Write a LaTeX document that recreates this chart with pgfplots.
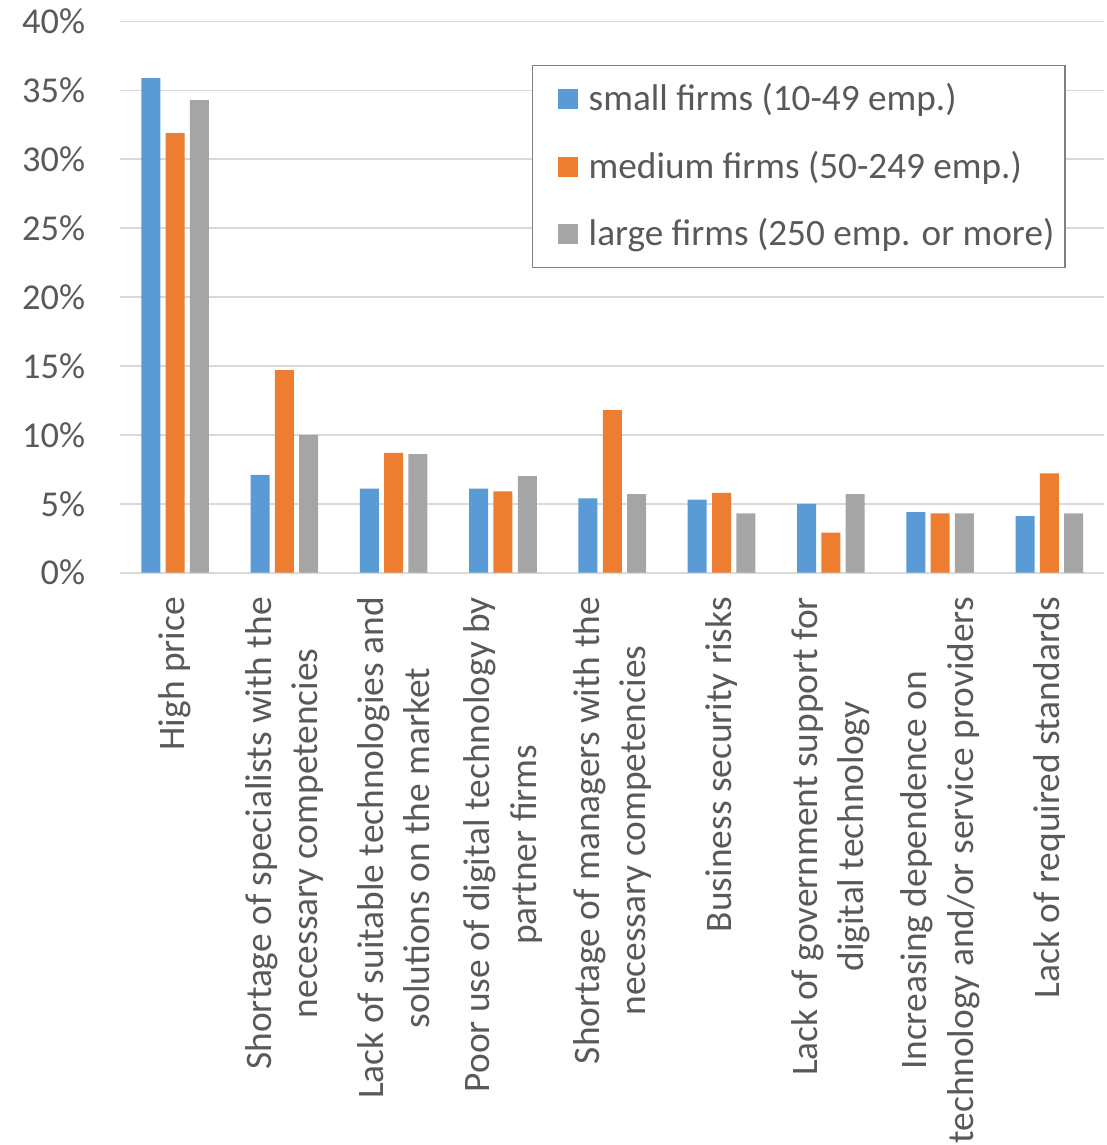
\documentclass[border=0pt]{standalone}
\usepackage{fontspec}
\setmainfont{Carlito}
\usepackage{pgfplots}
\pgfplotsset{compat=1.18}
\definecolor{cblue}{HTML}{5B9BD5}
\definecolor{corange}{HTML}{ED7D31}
\definecolor{cgray}{HTML}{A5A5A5}
\definecolor{gridc}{HTML}{D9D9D9}
\definecolor{txt}{HTML}{595959}
\definecolor{legb}{HTML}{808080}
\begin{document}
\begin{tikzpicture}
\begin{axis}[
  at={(0,0)}, anchor=south west,
  scale only axis, width=491.75pt, height=275.6pt,
  xmin=-0.5, xmax=8.5, ymin=0, ymax=40,
  ybar, bar width=9.5pt,
  axis line style={draw=none},
  major tick length=0pt,
  ymajorgrids, grid style={draw=gridc, line width=0.85pt},
  ytick={0,5,...,40},
  yticklabels={0\%,5\%,10\%,15\%,20\%,25\%,30\%,35\%,40\%},
  yticklabel style={font=\fontsize{18.2}{22}\selectfont, text=txt, inner sep=0pt, anchor=east, xshift=-17.5pt},
  xtick={0,...,8},
  xticklabels={{High price},
    {Shortage of specialists with the\\necessary competencies},
    {Lack of suitable technologies and\\solutions on the market},
    {Poor use of digital technology by\\partner firms},
    {Shortage of managers with the\\necessary competencies},
    {Business security risks},
    {Lack of government support for\\digital technology},
    {Increasing dependence on\\technology and/or service providers},
    {Lack of required standards}},
  xticklabel style={yshift=-12pt, rotate=90, anchor=east, align=center, inner sep=0pt, font=\fontsize{18.7}{23.2}\selectfont, text=txt},
  legend style={at={(0.4184,0.9211)}, anchor=north west, draw=legb, line width=0.75pt, fill=white,
    inner xsep=5.5pt, inner ysep=8pt, font=\fontsize{18.6}{22}\selectfont, text=txt,
    row sep=16.25pt, column sep=5.5pt,
    nodes={inner sep=0pt, text height=14.5pt, text depth=3pt, anchor=west}},
  legend cell align=left,
  legend image code/.code={\path (-7pt,0pt); \fill[#1, draw=none] (0pt,-5pt) rectangle (10pt,5pt);},
]
\addplot[fill=cblue, draw=none, bar shift=-12.15pt] coordinates {(0,35.9) (1,7.1) (2,6.1) (3,6.1) (4,5.4) (5,5.3) (6,5.0) (7,4.4) (8,4.1)};
\addplot[fill=corange, draw=none, bar shift=0pt] coordinates {(0,31.9) (1,14.7) (2,8.7) (3,5.9) (4,11.8) (5,5.8) (6,2.9) (7,4.3) (8,7.2)};
\addplot[fill=cgray, draw=none, bar shift=12.15pt] coordinates {(0,34.3) (1,10.0) (2,8.6) (3,7.0) (4,5.7) (5,4.3) (6,5.7) (7,4.3) (8,4.3)};
\legend{small firms (10-49 emp.), medium firms (50-249 emp.), large firms (250 emp. or more)}
\end{axis}
\pgfresetboundingbox
\path[use as bounding box] (-60.25pt,-286.15pt) rectangle (493.25pt,286.35pt);
\end{tikzpicture}
\end{document}
